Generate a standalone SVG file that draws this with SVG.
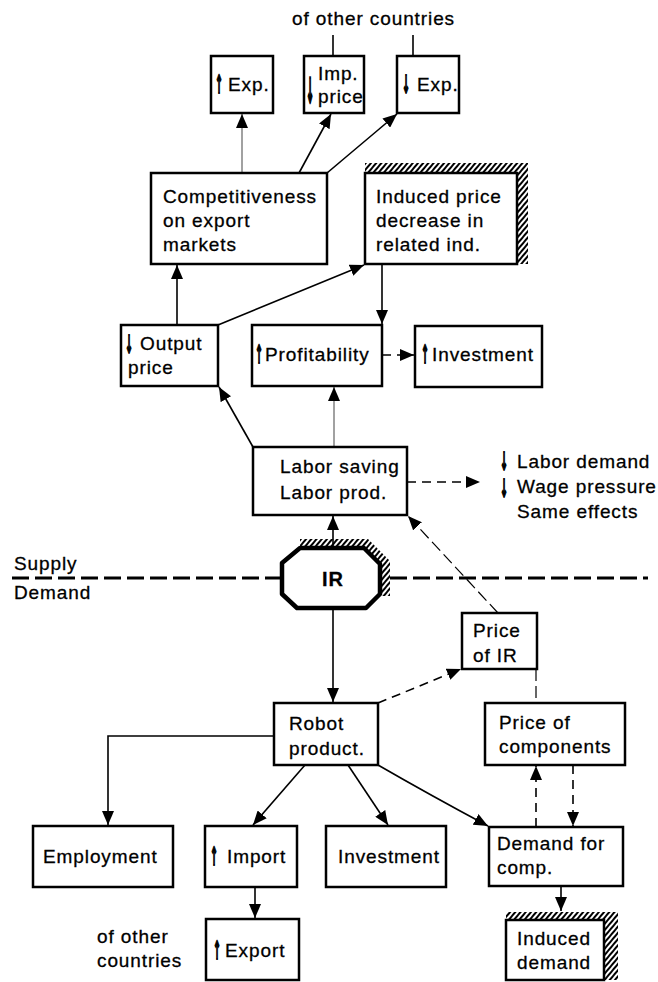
<svg xmlns="http://www.w3.org/2000/svg" width="658" height="982" viewBox="0 0 658 982">
  <defs>
    <style>
      .box { fill: #fff; stroke: #000; stroke-width: 2.5; }
      .oct { fill: #fff; stroke: #000; stroke-width: 4.5; stroke-linejoin: round; }
      .t { font-family: "Liberation Sans", Arial, sans-serif; font-size: 19px; letter-spacing: 0.9px; fill: #000; stroke: #000; stroke-width: 0.3; }
      .ar { font-family: "DejaVu Sans", "Liberation Sans", sans-serif; font-size: 20px; font-weight: bold; fill: #000; stroke: #000; stroke-width: 1.4; text-anchor: middle; }
      .b { font-weight: bold; font-size: 20px; }
      .c { stroke: #000; stroke-width: 1.6; fill: none; }
      .g { stroke: #8a8a8a; stroke-width: 1.6; fill: none; }
      .d { stroke: #000; stroke-width: 1.6; fill: none; stroke-dasharray: 9 6; }
      .dt { stroke: #000; stroke-width: 1.2; fill: none; stroke-dasharray: 12 5; }
      .sep { stroke: #000; stroke-width: 3; fill: none; stroke-dasharray: 17 6; }
      .hatch { fill: url(#hatch); stroke: none; }
    </style>
    <marker id="ah" viewBox="0 0 14 12" refX="14" refY="6" markerWidth="14" markerHeight="12" orient="auto" markerUnits="userSpaceOnUse">
      <path d="M0,0 L14,6 L0,12 Z" fill="#000"/>
    </marker>
    <pattern id="hatch" width="4" height="4" patternUnits="userSpaceOnUse" patternTransform="rotate(40)">
      <rect x="0" y="0" width="2" height="4" fill="#000"/>
    </pattern>
  </defs>

  <!-- free labels -->
  <text class="t" x="292" y="25">of other countries</text>
  <g id="label-labor">
    <text class="ar" transform="translate(504,470) scale(0.45,1.25)">↓</text>
    <text class="ar" transform="translate(504,497) scale(0.45,1.25)">↓</text>
    <text class="t" x="517" y="468">Labor demand</text>
    <text class="t" x="517" y="493">Wage pressure</text>
    <text class="t" x="517" y="518">Same effects</text>
  </g>
  <text class="t" x="14" y="570">Supply</text>
  <text class="t" x="14" y="599">Demand</text>
  <text class="t" x="97" y="943">of other</text>
  <text class="t" x="97" y="967">countries</text>

  <!-- connectors -->
  <g id="connectors">
    <line class="c" x1="333" y1="35" x2="333" y2="56"/>
    <line class="c" x1="413" y1="35" x2="413" y2="56"/>
    <line class="g" x1="242" y1="173" x2="242" y2="114" marker-end="url(#ah)"/>
    <line class="c" x1="299" y1="173" x2="331" y2="114" marker-end="url(#ah)"/>
    <line class="c" x1="327" y1="173" x2="397" y2="114" marker-end="url(#ah)"/>
    <line class="c" x1="177" y1="325" x2="177" y2="265" marker-end="url(#ah)"/>
    <line class="c" x1="218" y1="325" x2="364" y2="265" marker-end="url(#ah)"/>
    <line class="c" x1="382" y1="264" x2="382" y2="324" marker-end="url(#ah)"/>
    <line class="d" x1="382" y1="355" x2="414" y2="355" marker-end="url(#ah)"/>
    <line class="c" x1="253" y1="447" x2="219" y2="387" marker-end="url(#ah)"/>
    <line class="g" x1="334" y1="447" x2="334" y2="387" marker-end="url(#ah)"/>
    <line class="d" x1="407" y1="482" x2="480" y2="482" marker-end="url(#ah)"/>
    <line class="c" x1="333" y1="546" x2="333" y2="516" marker-end="url(#ah)"/>
    <line class="sep" x1="12" y1="578" x2="282" y2="578"/>
    <line class="sep" x1="390" y1="578" x2="648" y2="578"/>
    <line class="c" x1="333" y1="610" x2="333" y2="702" marker-end="url(#ah)"/>
    <line class="d" x1="378" y1="703" x2="461" y2="669" marker-end="url(#ah)"/>
    <line class="dt" x1="498" y1="613" x2="408" y2="516" marker-end="url(#ah)"/>
    <line class="dt" x1="536" y1="669" x2="536" y2="703"/>
    <polyline class="c" points="274,736 108,736 108,825" marker-end="url(#ah)"/>
    <line class="c" x1="305" y1="765" x2="253" y2="825" marker-end="url(#ah)"/>
    <line class="c" x1="348" y1="765" x2="388" y2="825" marker-end="url(#ah)"/>
    <path class="c" d="M378,765 Q430,795 488,826" marker-end="url(#ah)"/>
    <line class="d" x1="536" y1="827" x2="536" y2="766" marker-end="url(#ah)"/>
    <line class="d" x1="573" y1="765" x2="573" y2="826" marker-end="url(#ah)"/>
    <line class="c" x1="561" y1="886" x2="561" y2="911" marker-end="url(#ah)"/>
    <line class="c" x1="255" y1="887" x2="255" y2="918" marker-end="url(#ah)"/>
  </g>

  <!-- top row -->
  <g id="exp-up">
    <rect class="box" x="211" y="56" width="62" height="57"/>
    <text class="ar" transform="translate(219,93) scale(0.45,1.25)">↑</text>
    <text class="t" x="228" y="91">Exp.</text>
  </g>
  <g id="imp-price">
    <rect class="box" x="304" y="56" width="60" height="57"/>
    <text class="ar" transform="translate(310,103) scale(0.45,1.75)">↓</text>
    <text class="t" x="318" y="80">Imp.</text>
    <text class="t" x="318" y="103">price</text>
  </g>
  <g id="exp-down">
    <rect class="box" x="397" y="56" width="62" height="57"/>
    <text class="ar" transform="translate(406,93) scale(0.45,1.25)">↓</text>
    <text class="t" x="417" y="91">Exp.</text>
  </g>

  <g id="competitiveness">
    <rect class="box" x="151" y="173" width="176" height="91"/>
    <text class="t" x="163" y="203">Competitiveness</text>
    <text class="t" x="163" y="227">on export</text>
    <text class="t" x="163" y="251">markets</text>
  </g>
  <g id="induced-price">
    <rect class="hatch" x="365" y="163" width="163" height="101"/>
    <rect class="box" x="365" y="173" width="152" height="91"/>
    <text class="t" x="376" y="203">Induced price</text>
    <text class="t" x="376" y="227">decrease in</text>
    <text class="t" x="376" y="251">related ind.</text>
  </g>

  <g id="output-price">
    <rect class="box" x="121" y="325" width="97" height="61"/>
    <text class="ar" transform="translate(129,353) scale(0.45,1.25)">↓</text>
    <text class="t" x="140" y="350">Output</text>
    <text class="t" x="128" y="374">price</text>
  </g>
  <g id="profitability">
    <rect class="box" x="252" y="325" width="130" height="61"/>
    <text class="ar" transform="translate(259,363) scale(0.45,1.25)">↑</text>
    <text class="t" x="265" y="361">Profitability</text>
  </g>
  <g id="investment-up">
    <rect class="box" x="415" y="326" width="127" height="61"/>
    <text class="ar" transform="translate(425,363) scale(0.45,1.25)">↑</text>
    <text class="t" x="432" y="361">Investment</text>
  </g>

  <g id="labor-saving">
    <rect class="box" x="253" y="447" width="154" height="68"/>
    <text class="t" x="280" y="473">Labor saving</text>
    <text class="t" x="280" y="499">Labor prod.</text>
  </g>

  <g id="ir">
    <polygon class="hatch" points="300,539 368,539 390,561 390,596 380,596 380,564 364,548 300,548"/>
    <polygon class="oct" points="300,548 364,548 380,564 380,594 366,608 297,608 282,594 282,563"/>
    <text class="t b" x="333" y="586" text-anchor="middle">IR</text>
  </g>

  <g id="price-ir">
    <rect class="box" x="462" y="613" width="75" height="56"/>
    <text class="t" x="473" y="637">Price</text>
    <text class="t" x="473" y="662">of IR</text>
  </g>

  <g id="robot-product">
    <rect class="box" x="274" y="703" width="104" height="62"/>
    <text class="t" x="289" y="730">Robot</text>
    <text class="t" x="289" y="755">product.</text>
  </g>
  <g id="price-components">
    <rect class="box" x="485" y="703" width="140" height="62"/>
    <text class="t" x="499" y="729">Price of</text>
    <text class="t" x="499" y="753">components</text>
  </g>

  <g id="employment">
    <rect class="box" x="33" y="826" width="140" height="61"/>
    <text class="t" x="43" y="863">Employment</text>
  </g>
  <g id="import">
    <rect class="box" x="205" y="826" width="92" height="61"/>
    <text class="ar" transform="translate(214,865) scale(0.45,1.25)">↑</text>
    <text class="t" x="227" y="863">Import</text>
  </g>
  <g id="investment">
    <rect class="box" x="326" y="826" width="120" height="61"/>
    <text class="t" x="338" y="863">Investment</text>
  </g>
  <g id="demand-comp">
    <rect class="box" x="489" y="827" width="134" height="59"/>
    <text class="t" x="497" y="850">Demand for</text>
    <text class="t" x="497" y="874">comp.</text>
  </g>
  <g id="export">
    <rect class="box" x="206" y="919" width="93" height="61"/>
    <text class="ar" transform="translate(217,959) scale(0.45,1.25)">↑</text>
    <text class="t" x="225" y="957">Export</text>
  </g>
  <g id="induced-demand">
    <rect class="hatch" x="506" y="912" width="112" height="68"/>
    <rect class="box" x="506" y="920" width="98" height="60"/>
    <text class="t" x="517" y="945">Induced</text>
    <text class="t" x="517" y="969">demand</text>
  </g>
</svg>
